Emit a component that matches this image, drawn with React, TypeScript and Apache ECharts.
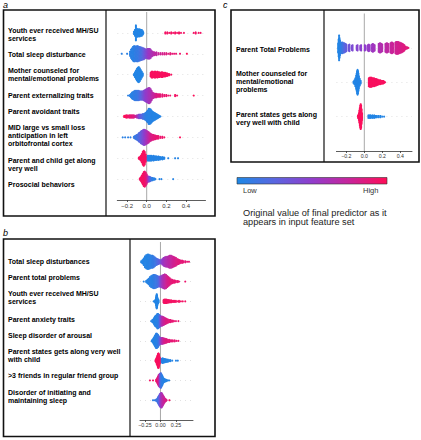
import React, { useEffect, useRef } from "react";
import * as echarts from "echarts";

type G = [number, number, number]; // [SHAP value, number of points, feature value 0..1]

const labelsA = [
  "Youth ever received MH/SU\nservices",
  "Total sleep disturbance",
  "Mother counseled for\nmental/emotional problems",
  "Parent externalizing traits",
  "Parent avoidant traits",
  "MID large vs small loss\nanticipation in left\norbitofrontal cortex",
  "Parent and child get along\nvery well",
  "Prosocial behaviors",
];
const labelsB = [
  "Total sleep disturbances",
  "Parent total problems",
  "Youth ever received MH/SU\nservices",
  "Parent anxiety traits",
  "Sleep disorder of arousal",
  "Parent states gets along very well\nwith child",
  ">3 friends in regular friend group",
  "Disorder of initiating and\nmaintaining sleep",
];
const labelsC = [
  "Parent Total Problems",
  "Mother counseled for\nmental/emotional\nproblems",
  "Parent states gets along\nvery well with child",
];

const rowsA: G[][] = [
  [[-0.13,3,0.02],[-0.12,6,0.02],[-0.11,14,0.02],[-0.1,8,0.02],[-0.09,7,0.02],[-0.08,7,0.02],[-0.07,7,0.02],[-0.06,6,0.02],[-0.05,6,0.02],[-0.04,4,0.02],[-0.035,2,0.02],
   [0.19,2,0.95],[0.21,2,0.95],[0.23,1,0.95],[0.25,2,0.95],[0.27,1,0.95],[0.29,2,0.95],[0.31,1,0.95],[0.33,2,0.95],[0.35,1,0.95],[0.38,1,0.95],[0.48,1,0.95],[0.5,2,0.95],[0.53,1,0.95],[0.55,1,0.95]],
  [[-0.255,1,0.05],[-0.2,1,0.05],[-0.17,4,0.05],[-0.16,7,0.05],[-0.15,9,0.05],[-0.14,11,0.05],[-0.13,12,0.05],[-0.12,12,0.08],[-0.11,11,0.08],[-0.1,12,0.1],[-0.09,12,0.1],[-0.08,11,0.12],[-0.07,11,0.15],[-0.06,10,0.18],[-0.05,10,0.2],[-0.04,9,0.25],[-0.03,9,0.3],[-0.02,8,0.35],[-0.01,7,0.4],[0,7,0.45],[0.01,8,0.5],[0.02,8,0.55],[0.03,8,0.55],[0.04,7,0.6],[0.05,5,0.6],[0.06,4,0.65],[0.07,3,0.65],[0.08,3,0.7],[0.09,2,0.7],[0.1,3,0.72],[0.12,2,0.75],[0.14,2,0.78],[0.16,2,0.8],[0.18,2,0.82],[0.2,2,0.85],[0.22,1,0.85],[0.24,2,0.88],[0.26,1,0.88],[0.28,1,0.9],[0.3,1,0.9],[0.34,1,0.92],[0.41,1,1]],
  [[-0.13,2,0.02],[-0.12,5,0.02],[-0.11,8,0.02],[-0.1,11,0.02],[-0.09,13,0.02],[-0.08,14,0.02],[-0.07,12,0.02],[-0.06,9,0.02],[-0.05,6,0.02],[-0.04,3,0.02],
   [0.04,4,0.97],[0.05,6,0.97],[0.06,6,0.97],[0.07,5,0.97],[0.08,6,0.97],[0.09,6,0.97],[0.1,5,0.97],[0.11,6,0.97],[0.12,5,0.97],[0.13,5,0.97],[0.14,4,0.97],[0.15,5,0.97],[0.16,5,0.97],[0.17,4,0.97],[0.18,4,0.97],[0.19,4,0.97],[0.2,3,0.97],[0.21,3,0.97],[0.22,2,0.97],[0.23,2,0.97],[0.25,1,0.97]],
  [[-0.19,1,0.05],[-0.17,2,0.05],[-0.16,4,0.05],[-0.15,6,0.05],[-0.14,7,0.05],[-0.13,8,0.08],[-0.12,9,0.08],[-0.11,9,0.1],[-0.1,9,0.1],[-0.09,9,0.12],[-0.08,9,0.15],[-0.07,8,0.2],[-0.06,8,0.25],[-0.05,8,0.3],[-0.04,8,0.35],[-0.03,9,0.4],[-0.02,10,0.45],[-0.01,11,0.5],[0,12,0.52],[0.01,13,0.55],[0.02,14,0.58],[0.03,14,0.6],[0.04,12,0.62],[0.05,9,0.65],[0.06,6,0.7],[0.07,5,0.72],[0.08,4,0.75],[0.09,4,0.8],[0.1,4,0.82],[0.11,3,0.85],[0.12,3,0.85],[0.13,3,0.88],[0.14,3,0.88],[0.16,3,0.9],[0.18,2,0.9],[0.2,2,0.92],[0.22,1,0.92],[0.24,1,0.92],[0.29,2,0.95],[0.31,1,0.95],[0.48,1,1]],
  [[-0.23,2,1],[-0.22,2,1],[-0.21,3,0.97],[-0.2,3,0.95],[-0.19,2,0.95],[-0.18,3,0.92],[-0.17,3,0.9],[-0.16,3,0.88],[-0.15,3,0.88],[-0.14,3,0.85],[-0.13,3,0.85],[-0.12,2,0.8],[-0.11,2,0.75],[-0.1,3,0.65],[-0.09,3,0.55],[-0.08,4,0.45],[-0.07,4,0.35],[-0.06,4,0.3],[-0.05,4,0.25],[-0.04,5,0.2],[-0.03,5,0.15],[-0.02,6,0.1],[-0.01,7,0.08],[0,9,0.05],[0.01,11,0.05],[0.02,14,0.04],[0.03,14,0.04],[0.04,13,0.04],[0.05,11,0.03],[0.06,9,0.03],[0.07,8,0.03],[0.08,7,0.03],[0.09,6,0.03],[0.1,5,0.03],[0.11,4,0.03],[0.12,3,0.03],[0.13,2,0.03],[0.14,1,0.03]],
  [[-0.245,1,0.05],[-0.22,1,0.05],[-0.19,1,0.05],[-0.165,1,0.08],[-0.13,2,0.1],[-0.12,3,0.1],[-0.11,4,0.12],[-0.1,5,0.15],[-0.09,6,0.18],[-0.08,8,0.2],[-0.07,9,0.25],[-0.06,11,0.3],[-0.05,12,0.35],[-0.04,13,0.4],[-0.03,14,0.45],[-0.02,14,0.5],[-0.01,13,0.55],[0,12,0.6],[0.01,11,0.65],[0.02,10,0.7],[0.03,8,0.75],[0.04,7,0.8],[0.05,6,0.82],[0.06,5,0.85],[0.07,5,0.85],[0.08,4,0.88],[0.09,4,0.88],[0.1,3,0.9],[0.11,3,0.9],[0.12,3,0.9],[0.14,2,0.92],[0.16,2,0.92],[0.18,1,0.95],[0.34,1,1]],
  [[-0.08,2,0.97],[-0.07,3,0.97],[-0.06,5,0.97],[-0.05,8,0.97],[-0.04,12,0.97],[-0.03,14,0.97],[-0.02,12,0.97],[-0.01,7,0.97],[0,3,0.97],
   [0.01,5,0.03],[0.02,5,0.03],[0.03,5,0.03],[0.04,5,0.03],[0.05,5,0.03],[0.06,4,0.03],[0.07,5,0.03],[0.08,4,0.03],[0.09,4,0.03],[0.1,4,0.03],[0.11,3,0.03],[0.12,4,0.03],[0.13,3,0.03],[0.14,3,0.03],[0.15,2,0.03],[0.16,3,0.03],[0.17,2,0.03],[0.18,2,0.03],[0.22,1,0.03],[0.29,1,0.03],[0.32,1,0.03]],
  [[-0.07,2,0.95],[-0.06,4,0.95],[-0.05,7,0.95],[-0.04,10,0.95],[-0.03,13,0.95],[-0.02,14,0.93],[-0.01,12,0.9],[0,9,0.85],[0.01,6,0.7],[0.02,5,0.5],[0.03,5,0.35],[0.04,4,0.2],[0.05,3,0.1],[0.06,3,0.05],[0.07,2,0.05],[0.08,2,0.05],[0.09,1,0.05],[0.13,1,0.03],[0.15,1,0.03],[0.27,1,0.03]],
];

const rowsB: G[][] = [
  [[-0.31,2,0.02],[-0.29,4,0.02],[-0.27,7,0.02],[-0.25,11,0.03],[-0.23,13,0.03],[-0.21,14,0.03],[-0.19,14,0.04],[-0.17,13,0.05],[-0.15,12,0.06],[-0.13,12,0.08],[-0.11,11,0.1],[-0.09,9,0.12],[-0.07,7,0.15],[-0.05,6,0.2],[-0.03,5,0.25],[-0.01,4,0.3],[0.01,4,0.4],[0.03,6,0.5],[0.05,8,0.55],[0.07,9,0.6],[0.09,10,0.62],[0.11,10,0.65],[0.13,11,0.68],[0.15,12,0.7],[0.17,12,0.72],[0.19,11,0.75],[0.21,10,0.78],[0.23,9,0.8],[0.25,8,0.82],[0.27,6,0.84],[0.29,5,0.85],[0.31,4,0.86],[0.33,3,0.87],[0.35,3,0.88],[0.37,2,0.88],[0.4,2,0.88],[0.43,1,0.88],[0.46,1,0.88]],
  [[-0.27,1,0.03],[-0.23,2,0.03],[-0.21,4,0.03],[-0.19,6,0.04],[-0.17,9,0.05],[-0.15,11,0.05],[-0.13,12,0.06],[-0.11,13,0.08],[-0.09,13,0.1],[-0.07,12,0.12],[-0.05,11,0.15],[-0.03,10,0.22],[-0.01,10,0.35],[0.01,11,0.48],[0.03,12,0.58],[0.05,13,0.65],[0.07,14,0.7],[0.09,13,0.75],[0.11,11,0.8],[0.13,9,0.82],[0.15,7,0.85],[0.17,5,0.87],[0.19,4,0.88],[0.21,3,0.9],[0.23,3,0.9],[0.25,2,0.9],[0.28,2,0.9],[0.3,1,0.9],[0.4,1,0.92]],
  [[-0.11,1,0.02],[-0.09,2,0.02],[-0.08,4,0.02],[-0.07,8,0.02],[-0.065,12,0.02],[-0.06,14,0.02],[-0.055,12,0.02],[-0.05,8,0.02],[-0.04,5,0.02],[-0.03,3,0.02],
   [0.05,3,0.95],[0.06,4,0.95],[0.07,4,0.95],[0.08,4,0.95],[0.09,4,0.95],[0.1,4,0.95],[0.11,3,0.95],[0.12,3,0.95],[0.13,3,0.95],[0.14,3,0.95],[0.15,2,0.95],[0.17,3,0.95],[0.19,2,0.95],[0.21,2,0.95],[0.23,2,0.95],[0.25,2,0.95],[0.28,1,0.95],[0.3,2,0.95],[0.33,1,0.95],[0.36,1,0.95],[0.4,1,0.95]],
  [[-0.15,1,0.03],[-0.13,3,0.03],[-0.11,5,0.03],[-0.1,7,0.03],[-0.09,9,0.03],[-0.08,10,0.04],[-0.07,11,0.04],[-0.06,12,0.05],[-0.05,14,0.05],[-0.04,14,0.06],[-0.03,13,0.08],[-0.02,12,0.12],[-0.01,11,0.2],[0,10,0.35],[0.01,9,0.5],[0.02,9,0.6],[0.03,9,0.65],[0.04,8,0.7],[0.05,8,0.72],[0.06,7,0.75],[0.07,6,0.78],[0.08,6,0.8],[0.09,5,0.82],[0.1,5,0.84],[0.12,4,0.85],[0.14,3,0.86],[0.16,3,0.88],[0.18,2,0.88],[0.2,2,0.9],[0.22,1,0.9],[0.25,1,0.9],[0.29,1,0.9]],
  [[-0.14,2,0.03],[-0.12,4,0.03],[-0.11,6,0.03],[-0.1,8,0.03],[-0.09,10,0.04],[-0.08,12,0.04],[-0.07,14,0.05],[-0.06,14,0.05],[-0.05,13,0.06],[-0.04,12,0.08],[-0.03,10,0.1],[-0.02,8,0.15],[-0.01,7,0.25],[0,6,0.35],[0.01,6,0.5],[0.02,6,0.6],[0.03,6,0.65],[0.04,6,0.7],[0.05,5,0.75],[0.06,5,0.78],[0.07,5,0.8],[0.08,4,0.82],[0.09,4,0.84],[0.1,4,0.85],[0.12,3,0.86],[0.14,3,0.87],[0.16,2,0.88],[0.18,2,0.88],[0.2,2,0.9],[0.23,2,0.9],[0.26,1,0.9],[0.29,1,0.9]],
  [[-0.08,2,0.97],[-0.07,4,0.97],[-0.06,7,0.97],[-0.05,10,0.97],[-0.04,13,0.97],[-0.035,14,0.97],[-0.03,14,0.97],[-0.025,12,0.97],[-0.02,9,0.97],[-0.01,6,0.97],[0,3,0.97],
   [0.02,4,0.03],[0.03,5,0.03],[0.04,5,0.03],[0.05,4,0.03],[0.06,4,0.03],[0.07,4,0.03],[0.08,3,0.03],[0.09,3,0.03],[0.1,3,0.03],[0.12,3,0.03],[0.14,2,0.03],[0.16,2,0.03],[0.19,1,0.03],[0.25,1,0.03],[0.28,1,0.03]],
  [[-0.17,1,0.95],[-0.12,1,0.95],[-0.07,2,0.95],[-0.06,3,0.93],[-0.05,5,0.9],[-0.04,7,0.85],[-0.03,9,0.8],[-0.02,10,0.7],[-0.01,11,0.5],[0,12,0.3],[0.01,12,0.15],[0.02,10,0.1],[0.03,8,0.05],[0.04,6,0.05],[0.05,4,0.05],[0.06,3,0.03],[0.07,3,0.03],[0.08,2,0.03],[0.1,2,0.03],[0.12,1,0.03],[0.14,1,0.03]],
  [[-0.12,1,0.05],[-0.09,1,0.08],[-0.07,2,0.1],[-0.06,2,0.1],[-0.05,4,0.12],[-0.04,6,0.15],[-0.03,8,0.2],[-0.02,10,0.25],[-0.01,12,0.35],[0,13,0.45],[0.01,14,0.55],[0.02,14,0.6],[0.03,12,0.65],[0.04,10,0.7],[0.05,8,0.72],[0.06,6,0.75],[0.07,4,0.78],[0.08,3,0.8],[0.09,2,0.82],[0.1,1,0.85],[0.145,1,0.95]],
];

const rowsC: G[][] = [
  [[-0.29,8,0.02],[-0.285,14,0.02],[-0.28,20,0.02],[-0.275,16,0.02],[-0.27,12,0.03],[-0.265,9,0.04],[-0.26,8,0.06],[-0.25,9,0.1],[-0.24,9,0.14],[-0.23,8,0.18],[-0.22,8,0.22],[-0.21,7,0.26],[-0.2,6,0.3],
   [-0.175,5,0.34],[-0.165,6,0.36],[-0.14,4,0.4],[-0.13,5,0.41],[-0.085,4,0.44],[-0.075,5,0.45],[-0.045,4,0.47],[-0.035,5,0.48],
   [0.005,5,0.5],[0.015,4,0.5],[0.04,5,0.52],[0.05,6,0.53],[0.06,5,0.53],[0.085,6,0.55],[0.095,7,0.56],[0.105,6,0.57],[0.115,5,0.58],
   [0.16,7,0.62],[0.17,8,0.63],[0.18,8,0.64],[0.19,7,0.65],[0.2,6,0.66],[0.235,7,0.68],[0.245,8,0.69],[0.255,8,0.7],[0.265,7,0.71],
   [0.29,8,0.73],[0.3,9,0.74],[0.31,9,0.75],[0.32,8,0.76],[0.345,9,0.77],[0.355,10,0.78],[0.365,10,0.78],[0.375,10,0.79],[0.385,9,0.8],[0.395,9,0.8],[0.405,8,0.81],[0.415,8,0.82],[0.425,7,0.83],[0.435,6,0.84],[0.445,5,0.85],[0.46,3,0.86],[0.475,2,0.87],[0.49,1,0.88]],
  [[-0.12,2,0.02],[-0.11,4,0.02],[-0.1,7,0.02],[-0.09,11,0.02],[-0.085,14,0.02],[-0.08,18,0.02],[-0.075,20,0.02],[-0.07,18,0.02],[-0.065,14,0.02],[-0.06,10,0.02],[-0.05,6,0.02],[-0.04,3,0.02],
   [0.05,7,0.97],[0.06,8,0.97],[0.07,8,0.97],[0.08,8,0.97],[0.09,7,0.97],[0.1,7,0.97],[0.11,7,0.97],[0.12,6,0.97],[0.13,6,0.97],[0.14,5,0.97],[0.15,5,0.97],[0.16,4,0.97],[0.17,4,0.97],[0.18,4,0.97],[0.19,3,0.97],[0.2,3,0.97],[0.21,3,0.97],[0.22,2,0.97],[0.23,1,0.97]],
  [[-0.07,3,0.98],[-0.06,6,0.98],[-0.055,10,0.98],[-0.05,14,0.98],[-0.045,18,0.98],[-0.04,20,0.98],[-0.035,18,0.98],[-0.03,12,0.98],[-0.025,6,0.98],
   [0.045,3,0.02],[0.06,3,0.02],[0.07,3,0.02],[0.08,2,0.02],[0.09,3,0.02],[0.1,2,0.02],[0.11,3,0.02],[0.12,2,0.02],[0.13,2,0.02],[0.14,2,0.02],[0.16,2,0.02],[0.18,2,0.02],[0.2,1,0.02],[0.22,1,0.02]],
];

const ticksA = [-0.2, 0, 0.2, 0.4];
const tickTextA = ["−0.2", "0.0", "0.2", "0.4"];
const ticksB = [-0.25, 0, 0.25];
const tickTextB = ["−0.25", "0.00", "0.25"];
const ticksC = [-0.2, 0, 0.2, 0.4];
const tickTextC = ["−0.2", "0.0", "0.2", "0.4"];

const colorStops = ["#1e88e5", "#5a66e0", "#913dcc", "#c8249a", "#ff0d57"];
const colorbarText = ["Low", "High"];
const captionText = "Original value of final predictor as it\nappears in input feature set";
const panelLetters = ["a", "b", "c"];

const FONT = '"Liberation Sans", Arial, Helvetica, sans-serif';

function swarm(rows: G[][]) {
  const pts: number[][] = [];
  rows.forEach((groups, r) => {
    const maxC = Math.max(...groups.map((g) => g[1]));
    const step = maxC > 1 ? 0.36 / ((maxC - 1) / 2) : 0;
    groups.forEach(([x, n, c]) => {
      for (let i = 0; i < n; i++) pts.push([x, r + 1 + (i - (n - 1) / 2) * step, c]);
    });
  });
  return pts;
}

const panels = [
  { rows: rowsA, labels: labelsA, labelX: 8, labelY: [34.5, 54.3, 74.8, 95, 111.7, 135.3, 164.8, 184.3],
    left: 117.3, width: 88.2, top: 12, height: 188, min: -0.3, max: 0.6, ticks: ticksA, tickText: tickTextA, fs: 6 },
  { rows: rowsB, labels: labelsB, labelX: 8, labelY: [261.7, 277.7, 297.8, 319, 335, 355.5, 375.7, 396.3],
    left: 140, width: 53, top: 242, height: 178, min: -0.33, max: 0.525, ticks: ticksB, tickText: tickTextB, fs: 5.3 },
  { rows: rowsC, labels: labelsC, labelX: 236, labelY: [49, 81, 118.3],
    left: 336.4, width: 75.6, top: 13.5, height: 137.5, min: -0.31, max: 0.53, ticks: ticksC, tickText: tickTextC, fs: 5.2 },
];

export default function App() {
  const ref = useRef<HTMLDivElement>(null);
  useEffect(() => {
    document.body.style.margin = "0";
    if (!ref.current) return;
    const chart = echarts.init(ref.current, undefined, { renderer: "svg" });

    const grid: any[] = [];
    const xAxis: any[] = [];
    const yAxis: any[] = [];
    const series: any[] = [];
    const scatterIdx: number[] = [];

    panels.forEach((p, i) => {
      const n = p.rows.length;
      grid.push({ left: p.left, top: p.top, width: p.width, height: p.height, containLabel: false, outerBoundsMode: "none" });
      xAxis.push({
        gridIndex: i, type: "value", min: p.min, max: p.max,
        axisLine: { show: true, onZero: false, lineStyle: { color: "#333", width: 0.8 } },
        axisTick: { show: true, customValues: p.ticks, length: 2, lineStyle: { color: "#333", width: 0.8 } },
        axisLabel: {
          customValues: p.ticks, fontSize: p.fs, color: "#333", margin: 2.5, fontFamily: FONT,
          formatter: (v: number) => {
            const k = p.ticks.findIndex((t) => Math.abs(t - v) < 1e-9);
            return k >= 0 ? p.tickText[k] : "";
          },
        },
        splitLine: { show: false },
      });
      const splitColors = ["rgba(0,0,0,0)"];
      for (let k = 0; k < n; k++) splitColors.push("#cccccc");
      splitColors.push("rgba(0,0,0,0)");
      yAxis.push({
        gridIndex: i, type: "value", inverse: true, min: 0, max: n + 1, interval: 1,
        axisLine: { show: false }, axisTick: { show: false }, axisLabel: { show: false },
        splitLine: { show: true, lineStyle: { color: splitColors, width: 0.6, type: [1, 4] } },
      });
      series.push({
        type: "line", xAxisIndex: i, yAxisIndex: i, data: [[0, 0], [0, n + 1]],
        symbol: "none", silent: true, z: 1, lineStyle: { color: "#a8a8a8", width: 1 },
      });
      scatterIdx.push(series.length);
      series.push({
        type: "scatter", xAxisIndex: i, yAxisIndex: i, data: swarm(p.rows),
        symbol: "circle", symbolSize: 2.1, z: 2, silent: true,
        itemStyle: { opacity: 1 },
      });
    });

    const graphic: any[] = [];
    const frame = (x: number, y: number, w: number, h: number, dx: number) => {
      graphic.push({ type: "rect", shape: { x, y, width: w, height: h }, style: { fill: "none", stroke: "#111", lineWidth: 1.6 }, silent: true });
      graphic.push({ type: "line", shape: { x1: dx, y1: y, x2: dx, y2: y + h }, style: { stroke: "#111", lineWidth: 1.2 }, silent: true });
    };
    frame(3.5, 10, 211.5, 206, 106);
    frame(3.5, 239, 211.5, 197.5, 130);
    frame(231, 10, 188, 152, 324);

    const letterPos = [[3, 4.5], [3, 232.5], [223, 4.5]];
    panelLetters.forEach((t, i) => {
      graphic.push({ type: "text", x: letterPos[i][0], y: letterPos[i][1], silent: true,
        style: { text: t, fontSize: 9, fontStyle: "italic", fontFamily: FONT, fill: "#000", verticalAlign: "middle", align: "left" } });
    });

    panels.forEach((p) => {
      p.labels.forEach((t, k) => {
        graphic.push({ type: "text", x: p.labelX, y: p.labelY[k], silent: true,
          style: { text: t, fontSize: 7, fontWeight: "bold", fontFamily: FONT, fill: "#000", verticalAlign: "middle", align: "left", lineHeight: 8 } });
      });
    });

    graphic.push({
      type: "rect", silent: true, shape: { x: 237, y: 177.5, width: 150, height: 6.5 },
      style: {
        fill: new echarts.graphic.LinearGradient(0, 0, 1, 0, colorStops.map((c, i) => ({ offset: i / (colorStops.length - 1), color: c }))),
        stroke: "#333", lineWidth: 0.6,
      },
    });
    graphic.push({ type: "text", x: 243, y: 190, silent: true,
      style: { text: colorbarText[0], fontSize: 7.5, fontFamily: FONT, fill: "#333", verticalAlign: "middle", align: "left" } });
    graphic.push({ type: "text", x: 363, y: 190, silent: true,
      style: { text: colorbarText[1], fontSize: 7.5, fontFamily: FONT, fill: "#333", verticalAlign: "middle", align: "left" } });
    graphic.push({ type: "text", x: 243, y: 217.5, silent: true,
      style: { text: captionText, fontSize: 9.2, lineHeight: 9.8, fontFamily: FONT, fill: "#222", verticalAlign: "middle", align: "left" } });

    chart.setOption({
      animation: false,
      backgroundColor: "#ffffff",
      grid, xAxis, yAxis, series, graphic,
      visualMap: {
        type: "continuous", show: false, dimension: 2, min: 0, max: 1,
        seriesIndex: scatterIdx, inRange: { color: colorStops },
      },
    });
    return () => chart.dispose();
  }, []);
  return <div ref={ref} style={{ position: "absolute", left: 0, top: 0, width: 421, height: 440 }} />;
}
